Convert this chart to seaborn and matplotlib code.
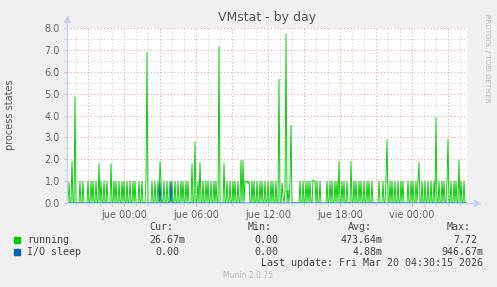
import numpy as np
import pandas as pd
import matplotlib
matplotlib.use("Agg")
import matplotlib.pyplot as plt
from matplotlib.patches import Rectangle
import seaborn as sns

# ---------------- data (5-minute samples, 400 points) ----------------
start_time = "2026-03-18 19:15"
running_a = [1, 0, 0.93, 0, 0, 1.9, 0, 0, 4.85, 0,
             0, 0, 0, 1, 0, 0, 1, 0, 0, 0,
             0, 1, 0, 0, 1, 0, 1, 0, 0, 1,
             0, 0, 1.8, 0, 1, 0, 0, 1, 0, 0]
running_b = [1, 0, 0, 0, 1.8, 0, 0, 1, 0, 1,
             0, 0, 1, 0, 0, 1, 0, 1, 0, 0,
             1, 0, 0, 1, 0, 0, 1, 0, 1, 0,
             0, 0, 1, 0, 0, 1, 0, 0, 0, 1]
running_c = [6.9, 0, 0, 0, 0, 1, 0, 0, 1, 0,
             0, 1, 0, 1.9, 0.9, 0, 0, 1, 0, 0,
             1, 0, 0, 1, 0, 1, 0, 0, 1, 0,
             0, 1, 0, 0, 1, 0, 1, 0, 0, 1]
running_d = [0, 1, 0, 0, 0, 1.8, 0, 0, 2.8, 0,
             0, 1, 0, 1.85, 0, 0, 1, 0, 0, 1,
             0, 1, 0, 0, 1, 0, 0, 1, 0, 1,
             0, 0, 7.15, 0, 0, 0, 0, 1.8, 0, 0]
running_e = [1, 0, 0, 1, 0, 0, 1, 0, 1, 0,
             0, 1, 0, 0, 1.95, 0, 1.95, 0, 1, 0.95,
             1, 0.9, 1, 0, 0, 1, 0, 1, 0, 0,
             1, 0, 0, 1, 0, 1, 0, 0, 1, 0]
running_f = [0, 1, 0, 0, 1, 0, 1, 0, 0, 1,
             0, 0, 5.65, 0, 0, 0.9, 0.3, 0, 0.5, 7.72,
             0, 0.6, 0, 1, 3.55, 0, 0, 0, 0, 0,
             0, 0, 0, 1, 0, 0, 1, 0, 0, 1]
running_g = [0, 1, 0, 1, 0, 0, 1.05, 1, 1, 0,
             1, 0, 0, 1, 0, 0, 0, 0, 0, 0,
             1, 0, 0, 1, 0, 1, 0, 0, 1, 0,
             1, 0, 1.9, 0, 0, 1, 0, 1, 0, 0]
running_h = [1, 0, 0, 0, 1.9, 0, 0, 1, 0, 1,
             0, 0, 1, 0, 1, 0, 0, 1, 0, 0,
             1, 0, 1, 0, 0, 1, 0, 0, 0, 0,
             0, 0, 1, 0, 0, 0, 1, 0, 0, 1]
running_i = [2.9, 0, 0, 1, 0, 1, 0, 0, 1, 0,
             0, 1, 0, 0, 1, 0, 1, 0, 0, 0,
             0, 1, 0, 0, 1, 0, 1, 0, 0, 1,
             0, 1, 1.85, 0, 0, 1, 0, 0, 1, 0]
running_j = [0, 1, 0, 0, 1, 0, 0, 1, 0, 3.9,
             0, 0, 1, 0, 0, 1, 0, 1, 0, 0,
             1, 2.9, 0, 0, 1, 0, 0, 1, 0, 1,
             0, 0, 1.95, 0, 1, 0, 0, 1, 0, 0.03]
io_sleep_idx = [93, 104]
io_sleep_vals = [0.9, 0.95]

y_ticks = [0.0, 1.0, 2.0, 3.0, 4.0, 5.0, 6.0, 7.0, 8.0]
day_names = {0: "lun", 1: "mar", 2: "mié", 3: "jue", 4: "vie", 5: "sáb", 6: "dom"}

legend_headers = ["Cur:", "Min:", "Avg:", "Max:"]
running_stats = ["26.67m", "0.00", "473.64m", "7.72"]
io_stats = ["0.00", "0.00", "4.88m", "946.67m"]
last_update = "Last update: Fri Mar 20 04:30:15 2026"

# ---------------- build frame ----------------
running = (running_a + running_b + running_c + running_d + running_e +
           running_f + running_g + running_h + running_i + running_j)
n = len(running)
times = pd.date_range(start_time, periods=n, freq="5min")
io_sleep = np.zeros(n)
io_sleep[io_sleep_idx] = io_sleep_vals
df = pd.DataFrame({"time": times, "running": running, "io": io_sleep})

# ---------------- figure ----------------
W, H = 497, 287
fig = plt.figure(figsize=(W / 100, H / 100), dpi=100, facecolor="#F0F0F0")
px_l, px_r, px_t, px_b = 67, 467, 28, 203
ax = fig.add_axes([px_l / W, 1 - px_b / H, (px_r - px_l) / W, (px_b - px_t) / H])
ax.set_facecolor("white")

FONT = "#666666"
RED = "#E8A8A8"
GRAY = "#D4D4D4"
AXISC = "#C8D0F4"

t0 = times[0]
t1 = t0 + pd.Timedelta(minutes=5 * n)
ax.set_xlim(t0, t1)
ax.set_ylim(0, 8.0)

# grid lines
hours = pd.date_range(t0.ceil("h"), t1, freq="h")
for h in hours:
    col = RED if h.hour % 3 == 0 else GRAY
    ax.axvline(h, color=col, lw=0.8, ls=(0, (1, 2)), zorder=1)
for yv in np.arange(0.5, 8.01, 0.5):
    col = RED if abs(yv - round(yv)) < 1e-6 else GRAY
    ax.axhline(yv, color=col, lw=0.8, ls=(0, (1, 2)), zorder=1)

sns.lineplot(data=df, x="time", y="running", ax=ax, color="#00CC00",
             lw=0.65, zorder=3, errorbar=None)
sns.lineplot(data=df, x="time", y="io", ax=ax, color="#0066B3",
             lw=0.65, zorder=4, errorbar=None)

for s in ax.spines.values():
    s.set_visible(False)

# axis lines with arrows
ax.plot([0, 0], [0, 1.04], transform=ax.transAxes, color=AXISC, lw=1,
        clip_on=False, zorder=6)
ax.plot([0, 1.02], [0, 0], transform=ax.transAxes, color=AXISC, lw=1,
        clip_on=False, zorder=6)
ax.plot([0], [1.05], transform=ax.transAxes, marker="^", ms=4, color=AXISC,
        clip_on=False, zorder=6)
ax.plot([1.025], [0], transform=ax.transAxes, marker=">", ms=4, color=AXISC,
        clip_on=False, zorder=6)

# ticks
major_x = [h for h in hours if h.hour % 6 == 0]
ax.set_xticks(major_x)
ax.set_xticklabels([f"{day_names[h.dayofweek]} {h:%H:%M}" for h in major_x])
ax.set_xticks([h for h in hours if h.hour % 6 != 0], minor=True)
ax.set_yticks(y_ticks)
ax.set_yticklabels([f"{v:.1f}" for v in y_ticks])
ax.set_yticks(np.arange(0.5, 8, 1.0), minor=True)
ax.tick_params(axis="both", which="major", length=2, width=0.8, color=RED,
               labelsize=7, labelcolor=FONT, pad=3)
ax.tick_params(axis="both", which="minor", length=2, width=0.8, color=GRAY)
ax.set_xlabel("")
ax.set_ylabel("")

# texts
fig.text((px_l + px_r) / 2 / W, 1 - 17 / H, "VMstat - by day", ha="center",
         va="center", fontsize=9, color="#555555")
fig.text(10 / W, 1 - 115 / H, "process states", rotation=90, ha="center",
         va="center", fontsize=7, color="#555555")
fig.text(487 / W, 1 - 58 / H, "RRDTOOL / TOBI OETIKER", rotation=270,
         ha="center", va="center", fontsize=5, color="#BBBBBB")

mono = "DejaVu Sans Mono"
TXT = "#444444"
fs = 7.2
def mtext(x, y, s, color=TXT, size=fs):
    fig.text(x / W, 1 - y / H, s, ha="left", va="center", family=mono,
             fontsize=size, color=color)

for x, s in zip([149, 248, 348, 447], legend_headers):
    mtext(x, 227, s)
fig.patches.append(Rectangle((14 / W, 1 - 243 / H), 6 / W, 6 / H,
                             transform=fig.transFigure, color="#00CC00"))
fig.patches.append(Rectangle((14 / W, 1 - 255 / H), 6 / W, 6 / H,
                             transform=fig.transFigure, color="#0066B3"))
mtext(27, 240, "running")
mtext(27, 252, "I/O sleep")
col_ends = [185, 284, 383, 483]
cw = 6.0
for end, s in zip(col_ends, running_stats):
    pad = 0 if s.endswith("m") else 1
    mtext(end - cw * (len(s) + pad), 240, s)
for end, s in zip(col_ends, io_stats):
    pad = 0 if s.endswith("m") else 1
    mtext(end - cw * (len(s) + pad), 252, s)
mtext(483 - cw * len(last_update), 263, last_update)
fig.text(248 / W, 1 - 276 / H, "Munin 2.0.75", ha="center", va="center",
         fontsize=5.5, color="#BBBBBB")

fig.savefig("out.png", dpi=100, facecolor="#F0F0F0")
